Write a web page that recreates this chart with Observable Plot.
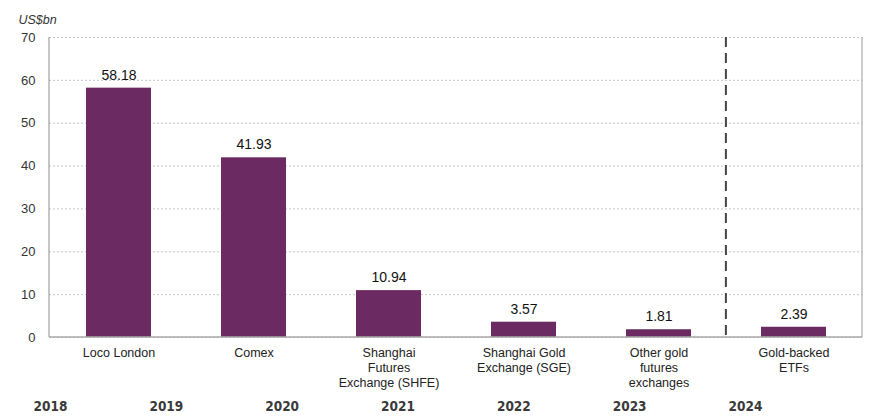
<!DOCTYPE html>
<html>
<head>
<meta charset="utf-8">
<script src="https://cdn.jsdelivr.net/npm/d3@7"></script>
<script src="https://cdn.jsdelivr.net/npm/@observablehq/plot@0.6"></script>
<style>
  html, body { margin: 0; padding: 0; background: #fff; }
  #chart svg { display: block; overflow: visible; }
</style>
</head>
<body>
<div id="chart"></div>
<script>
const categories = ["Loco London", "Comex", "Shanghai Futures Exchange (SHFE)", "Shanghai Gold Exchange (SGE)", "Other gold futures exchanges", "Gold-backed ETFs"];
const tickLabels = ["Loco London", "Comex", "Shanghai\nFutures\nExchange (SHFE)", "Shanghai Gold\nExchange (SGE)", "Other gold\nfutures\nexchanges", "Gold-backed\nETFs"];
const values = [58.18, 41.93, 10.94, 3.57, 1.81, 2.39];
const yTicks = [0, 10, 20, 30, 40, 50, 60, 70];
const unitLabel = "US$bn";
const years = [2018, 2019, 2020, 2021, 2022, 2023, 2024];

const data = categories.map((c, i) => ({cat: c, value: values[i], label: values[i].toFixed(2)}));
const padInner = 0.52;
const padOuter = 0.26;
const purple = "#6b2b62";

const frameLines = (index, scales, values_, dims) => {
  if (dims === undefined) { dims = scales; scales = index; }
  const x = scales.x;
  const s = x(categories[5]) - x(categories[4]);
  const xb = x(categories[5]) - s * padInner / 2;
  const top = dims.marginTop, bottom = dims.height - dims.marginBottom;
  const left = dims.marginLeft, right = dims.width - dims.marginRight;
  const g = d3.create("svg:g");
  g.append("line").attr("x1", left).attr("x2", left).attr("y1", top).attr("y2", bottom).attr("stroke", "#a8a8a8").attr("stroke-width", 1.3);
  g.append("line").attr("x1", right).attr("x2", right).attr("y1", top).attr("y2", bottom).attr("stroke", "#bdbdbd").attr("stroke-width", 1.5);
  g.append("line").attr("x1", left).attr("x2", right).attr("y1", bottom).attr("y2", bottom).attr("stroke", "#a8a8a8").attr("stroke-width", 1.3);
  g.append("line").attr("x1", xb).attr("x2", xb).attr("y1", top).attr("y2", bottom)
    .attr("stroke", "#444").attr("stroke-width", 2).attr("stroke-dasharray", "10,6");
  return g.node();
};

const main = Plot.plot({
  width: 876,
  height: 394,
  marginTop: 37,
  marginBottom: 57,
  marginLeft: 49,
  marginRight: 14,
  style: {fontFamily: "'Liberation Sans', Arial, sans-serif", color: "#222", background: "#fff"},
  x: {domain: categories, paddingInner: padInner, paddingOuter: padOuter, label: null},
  y: {domain: [0, 70], label: null},
  marks: [
    Plot.gridY(yTicks, {stroke: "#c4c4c4", strokeOpacity: 1, strokeDasharray: "2,2"}),
    Plot.barY(data, {x: "cat", y: "value", fill: purple}),
    frameLines,
    Plot.text(data, {x: "cat", y: "value", text: "label", dy: -13, fontSize: 14, fill: "#111"}),
    Plot.axisY(yTicks, {tickSize: 0, tickPadding: 14, fontSize: 13, fill: "#333"}),
    Plot.axisX({tickSize: 0, tickPadding: 9, fontSize: 12.5, lineHeight: 1.2, fill: "#222",
      tickFormat: d => tickLabels[categories.indexOf(d)]}),
    Plot.text([unitLabel], {frameAnchor: "top-left", dx: -31, dy: -22, fontStyle: "italic", fontSize: 12.5, fill: "#333", textAnchor: "start"})
  ]
});

const yearRow = Plot.plot({
  width: 876,
  height: 26,
  marginTop: 0,
  marginBottom: 0,
  marginLeft: 50,
  marginRight: 131,
  style: {fontFamily: "'DejaVu Sans Condensed', 'DejaVu Sans', sans-serif", background: "#fff"},
  x: {domain: [2018, 2024], axis: null},
  y: {axis: null},
  marks: [
    Plot.text(years, {x: d => d, frameAnchor: "middle", dy: -1, text: d => String(d), fontSize: 13.5, fontWeight: "bold", fill: "#3a3a3a"})
  ]
});

document.getElementById("chart").append(main, yearRow);
</script>
</body>
</html>
